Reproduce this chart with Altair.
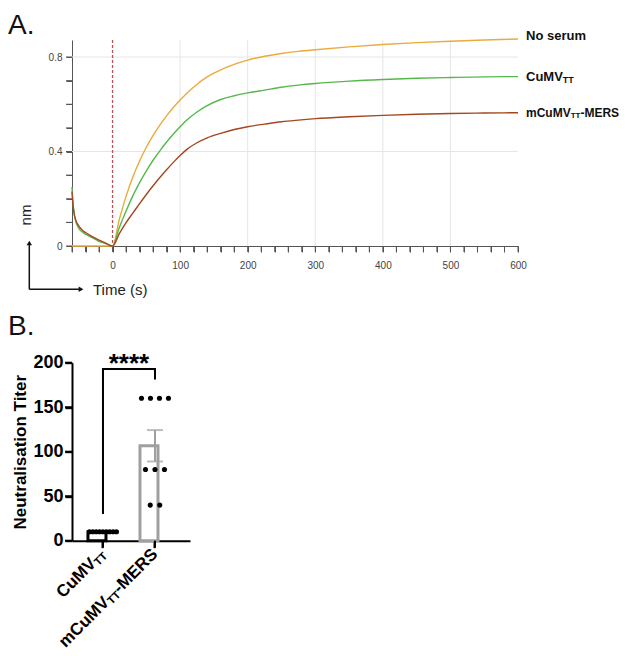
import altair as alt
import pandas as pd

# ---------------- Panel A: binding curves (nm vs time) ----------------
time_s = [-60, -59, -57, -55, -50, -45, -40, -30, -20, -10, 0, 10, 20, 30, 40, 50, 60, 70,
          80, 90, 100, 110, 125, 140, 160, 180, 200, 225, 250, 275, 300, 350, 400, 450,
          500, 550, 600]
no_serum = [0, 0, 0, 0, 0, 0, 0, 0, 0, 0, 0, 0.112, 0.21, 0.292, 0.36, 0.418, 0.468, 0.512,
            0.551, 0.586, 0.618, 0.647, 0.685, 0.716, 0.746, 0.769, 0.787, 0.803, 0.815,
            0.824, 0.831, 0.843, 0.853, 0.861, 0.867, 0.872, 0.876]
cumv_tt = [0.25, 0.2, 0.14, 0.11, 0.075, 0.06, 0.05, 0.035, 0.02, 0.01, 0, 0.078, 0.148,
           0.212, 0.268, 0.318, 0.363, 0.403, 0.44, 0.474, 0.505, 0.533, 0.567, 0.594,
           0.62, 0.636, 0.648, 0.66, 0.672, 0.681, 0.688, 0.698, 0.705, 0.71, 0.713,
           0.716, 0.717]
mcumv_tt_mers = [0.23, 0.19, 0.14, 0.115, 0.085, 0.068, 0.057, 0.04, 0.025, 0.012, 0,
                 0.052, 0.099, 0.139, 0.179, 0.218, 0.255, 0.29, 0.323, 0.354, 0.383,
                 0.409, 0.437, 0.458, 0.477, 0.493, 0.505, 0.516, 0.526, 0.533, 0.539,
                 0.547, 0.553, 0.558, 0.561, 0.563, 0.564]
series_names = ["No serum", "CuMV_TT", "mCuMV_TT-MERS"]
series_colors = ["#EBAA3C", "#55B84A", "#A5461F"]

x_tick_values = list(range(-60, 601, 20))
x_label_values = [0, 100, 200, 300, 400, 500, 600]
y_tick_values = [0, 0.1, 0.2, 0.3, 0.4, 0.5, 0.6, 0.7, 0.8]
y_label_values = [0, 0.4, 0.8]
x_grid_values = [100, 200, 300, 400, 500]
y_grid_values = [0.4, 0.8]
injection_time = [0]

# ---------------- Panel B: neutralisation titers ----------------
groups = ["CuMV_TT", "mCuMV_TT-MERS"]
titer_cumv_tt = [10, 10, 10, 10, 10, 10, 10, 10, 10]
titer_mcumv_tt_mers = [160, 160, 160, 160, 80, 80, 80, 40, 40]
yb_tick_values = [0, 50, 100, 150, 200]
bracket_y = [30, 193, 193, 181]
significance = "****"

FONT = "Liberation Sans"
BOLD_W = {"m": 0.889, "C": 0.722, "u": 0.611, "M": 0.833, "V": 0.667, "T": 0.611,
          "-": 0.333, "E": 0.667, "R": 0.722, "S": 0.667, "N": 0.722, "o": 0.611,
          " ": 0.278, "s": 0.556, "e": 0.556, "r": 0.389}


def text_w(s, size):
    return sum(BOLD_W.get(c, 0.6) for c in s) * size


one = pd.DataFrame({"k": [0]})

# ================= Panel A =================
W_A, H_A = 446, 206
TICK_A = 6
xs = alt.Scale(domain=[-60, 600], nice=False, zero=False)
ys = alt.Scale(domain=[0, 0.872], nice=False, zero=False)

rows = []
for name, vals in zip(series_names, [no_serum, cumv_tt, mcumv_tt_mers]):
    for t, v in zip(time_s, vals):
        rows.append({"series": name, "t": t, "v": v})
df_a = pd.DataFrame(rows)

x_lab_expr = "indexof([" + ",".join(str(v) for v in x_label_values) + "], datum.value) >= 0 ? datum.label : ''"
y_lab_expr = " || ".join(f"abs(datum.value - {v}) < 1e-6" for v in y_label_values)
y_lab_expr = f"({y_lab_expr}) ? (abs(datum.value) < 1e-6 ? '0' : format(datum.value, '.1f')) : ''"

xa = alt.Axis(values=x_tick_values, labelExpr=x_lab_expr, labelOverlap=False, labelFlush=False,
              grid=False, title=None, ticks=True, tickSize=TICK_A, tickWidth=1, labelPadding=8,
              labelFontSize=10, labelColor="#444", domainColor="#555", tickColor="#555",
              labelFont=FONT)
ya = alt.Axis(values=y_tick_values, labelExpr=y_lab_expr, labelOverlap=False, labelFlush=False,
              grid=False, title=None, ticks=True, tickSize=TICK_A, tickWidth=1, labelPadding=4,
              labelFontSize=10, labelColor="#444", domainColor="#555", tickColor="#555",
              labelFont=FONT)

vgrid = alt.Chart(pd.DataFrame({"t": x_grid_values})).mark_rule(
    color="#E6E6E6", strokeWidth=1).encode(x=alt.X("t:Q", scale=xs, axis=xa))
hgrid = alt.Chart(pd.DataFrame({"v": y_grid_values})).mark_rule(
    color="#E6E6E6", strokeWidth=1).encode(y=alt.Y("v:Q", scale=ys, axis=ya))

# explicit tick marks (drawn from the tick value lists)
xticks_a = alt.Chart(pd.DataFrame({"t": x_tick_values})).mark_rule(
    color="#555", strokeWidth=1).encode(
    x=alt.X("t:Q", scale=xs, axis=xa), y=alt.value(H_A), y2=alt.value(H_A + TICK_A))
yticks_a = alt.Chart(pd.DataFrame({"v": y_tick_values})).mark_rule(
    color="#555", strokeWidth=1).encode(
    y=alt.Y("v:Q", scale=ys, axis=ya), x=alt.value(-TICK_A), x2=alt.value(0))

lines = alt.Chart(df_a).mark_line(strokeWidth=1.4, interpolate="monotone").encode(
    x=alt.X("t:Q", scale=xs, axis=xa),
    y=alt.Y("v:Q", scale=ys, axis=ya),
    color=alt.Color("series:N", scale=alt.Scale(domain=series_names, range=series_colors),
                    legend=None),
)

dashed = alt.Chart(pd.DataFrame({"t": injection_time})).mark_rule(
    color="#B5525C", strokeWidth=1.3, strokeDash=[3, 2]).encode(
    x=alt.X("t:Q", scale=xs, axis=xa))

label_parts = {
    "No serum": ([("No serum", 13, False)], -3),
    "CuMV_TT": ([("CuMV", 13, False), ("TT", 9, True)], 0),
    "mCuMV_TT-MERS": ([("mCuMV", 12, False), ("TT", 8, True), ("-MERS", 12, False)], 0),
}
label_layers = []
for name, vals in zip(series_names, [no_serum, cumv_tt, mcumv_tt_mers]):
    parts, base_dy = label_parts[name]
    end = pd.DataFrame({"t": [time_s[-1]], "v": [vals[-1]]})
    dx = 8
    for txt, size, sub in parts:
        label_layers.append(
            alt.Chart(end).mark_text(
                text=txt, align="left", baseline="middle", dx=dx,
                dy=base_dy + (3.5 if sub else 0), fontSize=size, fontWeight="bold",
                font=FONT, color="#111").encode(
                x=alt.X("t:Q", scale=xs, axis=xa), y=alt.Y("v:Q", scale=ys, axis=ya)))
        dx += text_w(txt, size)

label_A = alt.Chart(one).mark_text(text="A.", align="left", baseline="top", fontSize=28,
                                   font=FONT, color="#111").encode(
    x=alt.value(-64), y=alt.value(-28))
nm_title = alt.Chart(one).mark_text(text="nm", angle=270, align="center", baseline="middle",
                                    fontSize=15, font=FONT, color="#222").encode(
    x=alt.value(-46), y=alt.value(175))
time_title = alt.Chart(one).mark_text(text="Time (s)", align="left", baseline="alphabetic",
                                      fontSize=15, font=FONT, color="#222").encode(
    x=alt.value(21), y=alt.value(255))
arrow_v = alt.Chart(one).mark_rule(color="#111", strokeWidth=1.5).encode(
    x=alt.value(-42.7), y=alt.value(203), y2=alt.value(249.3))
arrow_h = alt.Chart(one).mark_rule(color="#111", strokeWidth=1.5).encode(
    x=alt.value(-42.7), x2=alt.value(9), y=alt.value(249.3))
head_v = alt.Chart(one).mark_point(shape="triangle-up", filled=True, size=30, color="#111",
                                   opacity=1).encode(x=alt.value(-42.7), y=alt.value(203))
head_h = alt.Chart(one).mark_point(shape="triangle-right", filled=True, size=30, color="#111",
                                   opacity=1).encode(x=alt.value(9), y=alt.value(249.3))

top = alt.layer(vgrid, hgrid, xticks_a, yticks_a, lines, dashed, *label_layers, label_A,
                nm_title, time_title, arrow_v, arrow_h, head_v,
                head_h).properties(width=W_A, height=H_A)

# ================= Panel B =================
W_B, H_B = 118, 178
TICK_B = 7
xb = alt.Scale(domain=groups, paddingInner=0.423, paddingOuter=0.346, align=0.444)
yb = alt.Scale(domain=[0, 200], nice=False, zero=True)
group_colors = ["#000000", "#A0A0A0"]
stroke_scale = alt.Scale(domain=groups, range=group_colors)

pts = []
for g, vals in zip(groups, [titer_cumv_tt, titer_mcumv_tt_mers]):
    for v in sorted(set(vals), reverse=True):
        k = vals.count(v)
        spacing = min(9.5, 27 / max(k - 1, 1))
        for i in range(k):
            pts.append({"group": g, "y": v, "off": (i - (k - 1) / 2) * spacing})
df_pts = pd.DataFrame(pts)
stats = df_pts.groupby("group")["y"].agg(["mean", "std", "count"]).reset_index()
stats["sem"] = stats["std"] / stats["count"] ** 0.5
stats["y"] = stats["mean"]
stats["lo"] = stats["mean"] - stats["sem"]
stats["hi"] = stats["mean"] + stats["sem"]
caps = pd.concat([stats[["group", "lo"]].rename(columns={"lo": "y"}),
                  stats[["group", "hi"]].rename(columns={"hi": "y"})])

x_axis_b = alt.Axis(labels=False, title=None, ticks=True, tickSize=TICK_B, tickWidth=2,
                    tickColor="black", domainColor="black", domainWidth=2)
y_axis_b = alt.Axis(values=yb_tick_values, title="Neutralisation Titer", titleFontSize=17,
                    titleFontWeight="bold", titleFont=FONT, titleColor="black",
                    labelFontSize=18, labelFontWeight="bold", labelColor="black",
                    labelFont=FONT, ticks=True, tickSize=TICK_B, tickWidth=2,
                    tickColor="black", domainColor="black", domainWidth=2, labelPadding=2,
                    titlePadding=3, grid=False, labelFlush=False)
XB = alt.X("group:N", scale=xb, axis=x_axis_b)
YB = alt.Y("y:Q", scale=yb, axis=y_axis_b)

xticks_b = alt.Chart(pd.DataFrame({"group": groups})).mark_rule(
    color="black", strokeWidth=2).encode(x=XB, y=alt.value(H_B), y2=alt.value(H_B + TICK_B))
yticks_b = alt.Chart(pd.DataFrame({"y": yb_tick_values})).mark_rule(
    color="black", strokeWidth=2).encode(y=YB, x=alt.value(-TICK_B), x2=alt.value(0))

bars = alt.Chart(stats).mark_bar(fill="white", strokeWidth=3).encode(
    x=XB, y=YB, stroke=alt.Stroke("group:N", scale=stroke_scale, legend=None))
err = alt.Chart(stats).mark_rule(strokeWidth=2).encode(
    x=XB, y=alt.Y("lo:Q", scale=yb, axis=y_axis_b), y2="hi:Q",
    stroke=alt.Stroke("group:N", scale=stroke_scale, legend=None))
err_caps = alt.Chart(caps).mark_tick(size=16, thickness=2).encode(
    x=XB, y=YB, color=alt.Color("group:N", scale=stroke_scale, legend=None))
dots = alt.Chart(df_pts).mark_circle(size=26, color="black", opacity=1).encode(
    x=XB,
    xOffset=alt.XOffset("off:Q", scale=alt.Scale(domain=[-15, 15], range=[0, 30])),
    y=YB)

df_br = pd.DataFrame({"group": [groups[0], groups[0], groups[1], groups[1]],
                      "y": bracket_y, "o": [0, 1, 2, 3]})
bracket = alt.Chart(df_br).mark_line(color="black", strokeWidth=2).encode(
    x=XB, y=YB, order="o:Q")
stars = alt.Chart(pd.DataFrame({"group": [groups[0]], "y": [bracket_y[1]]})).mark_text(
    text=significance, align="center", baseline="alphabetic", dx=26, dy=3, fontSize=26,
    fontWeight="bold", font=FONT, color="black").encode(x=XB, y=YB)

xlabel_parts = {
    "CuMV_TT": [("CuMV", 17, False), ("TT", 11, True)],
    "mCuMV_TT-MERS": [("mCuMV", 17, False), ("TT", 11, True), ("-MERS", 17, False)],
}
xlabel_layers = []
for g in groups:
    offset = 0
    for txt, size, sub in reversed(xlabel_parts[g]):
        xlabel_layers.append(
            alt.Chart(pd.DataFrame({"group": [g]})).mark_text(
                text=txt, angle=315, align="right", baseline="middle", dx=-offset,
                dy=(4 if sub else 0), fontSize=size, fontWeight="bold", font=FONT,
                color="black").encode(x=XB, y=alt.value(H_B + 11)))
        offset += text_w(txt, size)

label_B = alt.Chart(one).mark_text(text="B.", align="left", baseline="top", fontSize=28,
                                   font=FONT, color="#111").encode(
    x=alt.value(-64), y=alt.value(-50))

bottom = alt.layer(bars, err, err_caps, dots, bracket, stars, xticks_b, yticks_b,
                   *xlabel_layers, label_B).properties(width=W_B, height=H_B)

chart = alt.vconcat(top, bottom, spacing=116.7, bounds="flush").properties(
    padding={"top": 4, "left": 0, "right": 0, "bottom": 0}
).resolve_scale(color="independent", stroke="independent").configure(
    font=FONT).configure_view(stroke=None)

chart.save("out.html", embed_options={"renderer": "svg", "actions": False})
